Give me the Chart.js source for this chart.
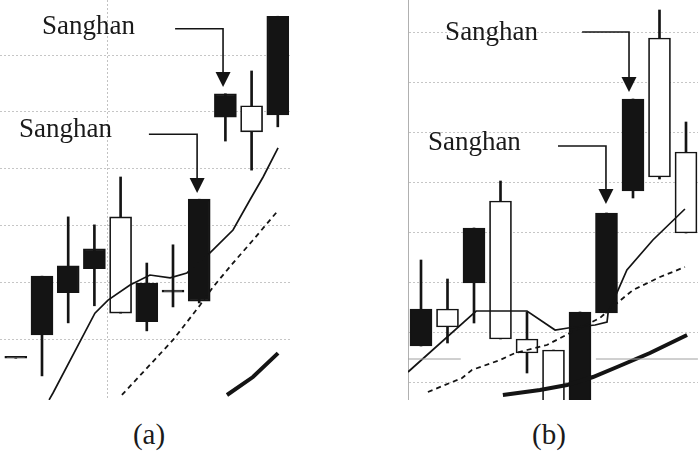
<!DOCTYPE html>
<html><head><meta charset="utf-8">
<script src="https://cdn.jsdelivr.net/npm/chart.js@4.4.1/dist/chart.umd.min.js"></script>
<style>
html,body{margin:0;padding:0;background:#fff;width:700px;height:451px;overflow:hidden;position:relative;}
#cA{position:absolute;left:0;top:0;}
#cB{position:absolute;left:400px;top:0;}
.cap{position:absolute;top:416px;width:80px;text-align:center;font-family:"Liberation Serif","DejaVu Serif",serif;font-size:29px;color:#1a1a1a;line-height:36px;}
</style></head><body>
<canvas id="cA" width="292" height="400"></canvas>
<canvas id="cB" width="300" height="400"></canvas>
<div class="cap" style="left:109px">(a)</div>
<div class="cap" style="left:509px">(b)</div>
<script>
// ---------- Panel (a) data ----------
const idxA   = [-1, 0, 1, 2, 3, 4, 5, 6, 7, 8, 9];
const openA  = [96.8, 111.2, 113.0, 116.0, 104.7, 110.0, 108.4, 124.7, 143.2, 136.5, 156.8];
const highA  = [96.8, 111.2, 121.6, 120.2, 128.6, 113.5, 116.7, 124.7, 143.2, 147.2, 156.8];
const lowA   = [96.8, 93.7, 103.0, 106.0, 104.7, 101.6, 105.8, 106.5, 134.9, 129.8, 137.4];
const closeA = [96.8, 100.9, 108.3, 112.5, 121.6, 103.2, 108.4, 106.8, 139.1, 141.1, 139.5];
const maShortA_x = [0.27, 0.42, 2.02, 2.52, 3.36, 4.12, 4.89, 5.53, 6.41, 7.29, 7.94, 8.44, 9.01];
const maShortA_y = [89.5, 90.7, 104.7, 107.0, 109.65, 111.4, 110.9, 111.75, 115.3, 119.3, 124.6, 128.6, 133.7];
const maMidA_x = [3.05, 5.0, 6.03, 6.53, 7.29, 8.05, 8.97];
const maMidA_y = [90.35, 100.0, 106.1, 109.3, 113.5, 117.5, 122.5];
const maLongA_x = [7.06, 8.05, 9.01];
const maLongA_y = [90.35, 93.5, 97.7];
const gridA = [100, 110, 120, 130, 140, 150];
const vGridA = [2.5];

// ---------- Panel (b) data ----------
const idxB   = [0, 1, 2, 3, 4, 5, 6, 7, 8, 9, 10];
const openB  = [104.6, 101.0, 120.8, 98.6, 95.8, 83.0, 104.0, 123.8, 146.6, 131.0, 119.8];
const highB  = [114.4, 110.6, 120.8, 130.2, 104.0, 96.4, 104.0, 123.8, 146.6, 164.4, 142.0];
const lowB   = [97.2, 97.8, 101.8, 98.6, 91.8, 83.0, 83.0, 103.8, 126.8, 130.6, 119.8];
const closeB = [97.2, 104.6, 109.8, 126.2, 98.6, 96.4, 83.0, 103.8, 128.2, 158.8, 136.0];
const maShortB_x = [-0.49, 2.08, 4.0, 5.06, 5.55, 6.57, 7.02, 7.06, 7.77, 8.75, 9.96];
const maShortB_y = [92.0, 104.2, 104.2, 100.4, 100.8, 101.4, 102.0, 103.8, 112.4, 118.4, 124.6];
const maMidB_x = [0.26, 1.55, 1.92, 2.98, 3.55, 4.0, 4.75, 5.62, 6.75, 7.4, 8.0, 9.02, 9.96];
const maMidB_y = [88.0, 90.8, 92.4, 94.4, 95.8, 96.4, 97.4, 99.8, 102.8, 105.8, 108.4, 111.0, 113.0];
const maLongB_x = [3.09, 4.49, 5.51, 6.49, 7.4, 8.64, 10.04];
const maLongB_y = [87.4, 88.4, 89.4, 91.0, 93.0, 95.8, 99.4];
const grayB_x = [-0.49, 1.5, null, 6.6, 10.45];
const grayB_y = [94.6, 94.6, null, 94.6, 94.6];
const gridB = [90, 100, 110, 120, 130, 140, 150, 160];

const labelText = 'Sanghan';

const INK = '#141414';
const SERIF = '"Liberation Serif", "DejaVu Serif", serif';

function pts(xs, ys) {
  return xs.map((x, i) => (x === null ? {x: null, y: null} : {x: x, y: ys[i]}));
}

function candleSets(idx, open, high, low, close, w) {
  const wicks = {
    type: 'bar', order: 3, grouped: false,
    data: idx.map((x, i) => ({x: x, y: [low[i], high[i]]})),
    backgroundColor: INK, borderWidth: 0, barThickness: 2
  };
  const bodies = {
    type: 'bar', order: 2, grouped: false,
    data: idx.map((x, i) => ({x: x, y: [open[i], close[i]]})),
    backgroundColor: idx.map((x, i) => close[i] > open[i] ? '#ffffff' : INK),
    borderColor: INK, borderWidth: 1.7, borderSkipped: false,
    barThickness: w, minBarLength: 2
  };
  return [wicks, bodies];
}

function lineSet(xs, ys, width, dash, color) {
  return {
    type: 'line', order: 1, data: pts(xs, ys),
    borderColor: color || INK, borderWidth: width, borderDash: dash || [],
    pointRadius: 0, tension: 0, fill: false, spanGaps: false
  };
}

function scaleCfg(xmin, xmax, ymin, ymax, xGrid, yGrid, yBorder) {
  return {
    x: {
      type: 'linear', min: xmin, max: xmax, offset: false, display: true,
      afterBuildTicks: s => { s.ticks = xGrid.map(v => ({value: v})); },
      afterFit: s => { s.height = 0; },
      ticks: {display: false},
      grid: {drawTicks: false, offset: false, color: '#c2c2c2', lineWidth: 1},
      border: {display: false, dash: [2, 2]}
    },
    y: {
      type: 'linear', min: ymin, max: ymax, display: true,
      afterBuildTicks: s => { s.ticks = yGrid.map(v => ({value: v})); },
      afterFit: s => { s.width = 0; },
      ticks: {display: false},
      grid: {drawTicks: false, offset: false, color: '#c6c6c6', lineWidth: 1},
      border: {display: yBorder, color: '#b0b0b0', width: 1, dash: [2, 2]}
    }
  };
}

const annotPlugin = {
  id: 'sanghan',
  afterDatasetsDraw(chart) {
    const opts = chart.options.plugins.sanghan;
    if (!opts) return;
    const xs = chart.scales.x, ys = chart.scales.y, ctx = chart.ctx;
    ctx.save();
    opts.items.forEach(it => {
      ctx.font = '27px ' + SERIF;
      ctx.fillStyle = '#1a1a1a';
      ctx.textBaseline = 'middle';
      ctx.textAlign = 'left';
      ctx.fillText(it.text, xs.getPixelForValue(it.tx), ys.getPixelForValue(it.ty));
      const p = it.path.map(q => [xs.getPixelForValue(q[0]), ys.getPixelForValue(q[1])]);
      const tip = p[p.length - 1];
      const head = 15, half = 7.5;
      ctx.strokeStyle = INK; ctx.lineWidth = 1.6;
      ctx.beginPath();
      ctx.moveTo(p[0][0], p[0][1]);
      for (let i = 1; i < p.length - 1; i++) ctx.lineTo(p[i][0], p[i][1]);
      ctx.lineTo(tip[0], tip[1] - head + 1);
      ctx.stroke();
      ctx.fillStyle = INK;
      ctx.beginPath();
      ctx.moveTo(tip[0] - half, tip[1] - head);
      ctx.lineTo(tip[0] + half, tip[1] - head);
      ctx.lineTo(tip[0], tip[1]);
      ctx.closePath();
      ctx.fill();
    });
    ctx.restore();
  }
};

const common = {
  responsive: false, animation: false,
  plugins: {legend: {display: false}, tooltip: {enabled: false}}
};

new Chart(document.getElementById('cA'), {
  type: 'bar',
  data: {
    datasets: [
      ...candleSets(idxA, openA, highA, lowA, closeA, 22),
      lineSet(maShortA_x, maShortA_y, 1.7),
      lineSet(maMidA_x, maMidA_y, 1.8, [5, 4]),
      lineSet(maLongA_x, maLongA_y, 4)
    ]
  },
  options: Object.assign({}, common, {
    layout: {padding: 0},
    scales: scaleCfg(-1.603, 9.542, 89.47, 159.65, vGridA, gridA, false),
    plugins: {
      legend: {display: false}, tooltip: {enabled: false},
      sanghan: {items: [
        {text: labelText, tx: 0.0, ty: 155.0, path: [[5.08, 154.6], [6.91, 154.6], [6.91, 144.4]]},
        {text: labelText, tx: -0.88, ty: 136.8, path: [[4.08, 136.1], [5.92, 136.1], [5.92, 125.8]]}
      ]}
    }
  }),
  plugins: [annotPlugin]
});

new Chart(document.getElementById('cB'), {
  type: 'bar',
  data: {
    datasets: [
      ...candleSets(idxB, openB, highB, lowB, closeB, 22),
      lineSet(grayB_x, grayB_y, 1, [], '#a0a0a0'),
      lineSet(maShortB_x, maShortB_y, 1.7),
      lineSet(maMidB_x, maMidB_y, 1.8, [5, 4]),
      lineSet(maLongB_x, maLongB_y, 4)
    ]
  },
  options: Object.assign({}, common, {
    layout: {padding: {left: 8, right: 2, top: 0, bottom: 0}},
    scales: scaleCfg(-0.4906, 10.453, 86.4, 166.4, [], gridB, true),
    plugins: {
      legend: {display: false}, tooltip: {enabled: false},
      sanghan: {items: [
        {text: labelText, tx: 0.91, ty: 159.8, path: [[6.08, 160.0], [7.85, 160.0], [7.85, 148.0]]},
        {text: labelText, tx: 0.26, ty: 137.8, path: [[5.17, 137.2], [6.98, 137.2], [6.98, 125.6]]}
      ]}
    }
  }),
  plugins: [annotPlugin]
});
</script>
</body></html>
